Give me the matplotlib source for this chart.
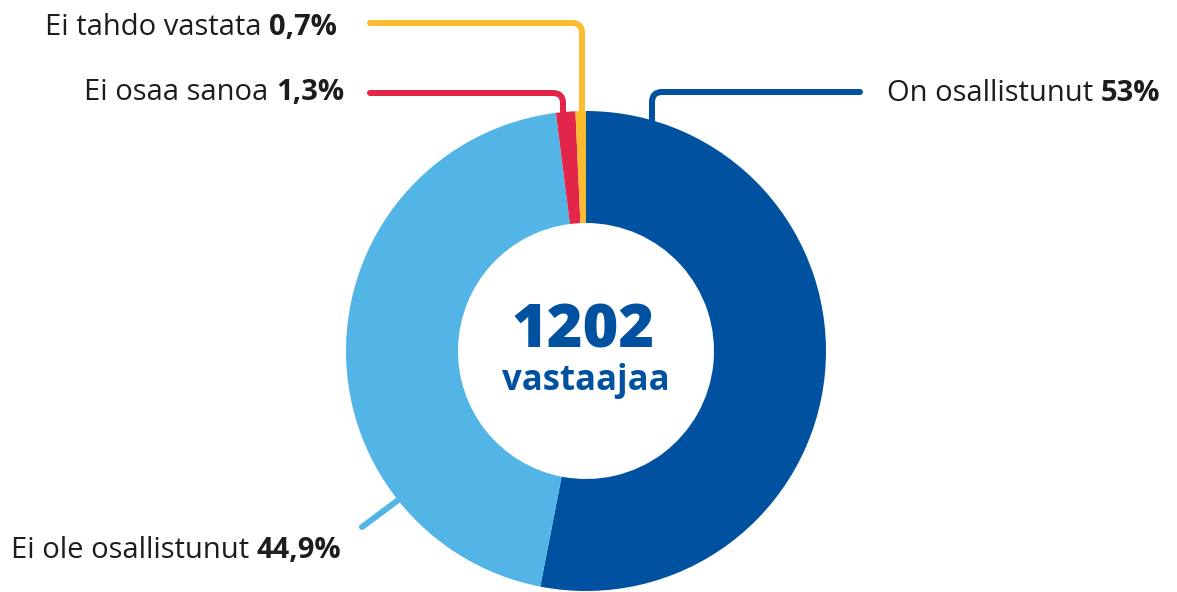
import matplotlib
matplotlib.use("Agg")
import math
import matplotlib.pyplot as plt
from matplotlib.path import Path
from matplotlib.patches import PathPatch

# ---- data ----
labels = ["On osallistunut", "Ei ole osallistunut", "Ei osaa sanoa", "Ei tahdo vastata"]
values = [53.0, 44.9, 1.3, 0.7]
value_labels = ["53%", "44,9%", "1,3%", "0,7%"]
colors = ["#0052A1", "#52B5E6", "#E2264A", "#FBBD2F"]
total_n = "1202"
total_label = "vastaajaa"

W, H = 1177, 592
fig = plt.figure(figsize=(W / 100, H / 100), dpi=100)
ax = fig.add_axes([0, 0, 1, 1])

def Y(y):
    return H - y

CX, CY, R, RIN = 586, 351, 240, 128
ax.pie(values, colors=colors, startangle=90, counterclock=False,
       radius=R, center=(CX, Y(CY)),
       wedgeprops=dict(width=R - RIN, linewidth=0))
ax.set_xlim(0, W)
ax.set_ylim(0, H)
ax.set_aspect("equal")
ax.axis("off")

LW = 6 * 72 / 100

def leader(points, color, rad=10):
    (x0, y0), (x1, y1), (x2, y2) = points
    d1 = math.hypot(x1 - x0, y1 - y0); d2 = math.hypot(x2 - x1, y2 - y1)
    ax_ = x1 - (x1 - x0) / d1 * rad; ay_ = y1 - (y1 - y0) / d1 * rad
    bx = x1 + (x2 - x1) / d2 * rad; by = y1 + (y2 - y1) / d2 * rad
    verts = [(x0, Y(y0)), (ax_, Y(ay_)), (x1, Y(y1)), (bx, Y(by)), (x2, Y(y2))]
    codes = [Path.MOVETO, Path.LINETO, Path.CURVE3, Path.CURVE3, Path.LINETO]
    p = PathPatch(Path(verts, codes), facecolor="none", edgecolor=color,
                  lw=LW, capstyle="round", joinstyle="round", zorder=1)
    ax.add_patch(p)

leader([(370, 23), (582, 23), (582, 116)], colors[3])
leader([(370, 93), (563, 93), (563, 116)], colors[2])
leader([(652, 122), (652, 92), (860, 92)], colors[0])
ax.plot([362, 405], [Y(527), Y(495)], color=colors[1], lw=LW,
        solid_capstyle="round", zorder=1)

TXT = "#1D1D1B"
FONT = ["Open Sans", "DejaVu Sans"]
FS = 21
fig.canvas.draw()
renderer = fig.canvas.get_renderer()

def two_part(x, y, regular, bold, align):
    # y: baseline pixel
    if align == "right":
        tb = ax.text(x, Y(y), bold, ha="right", va="baseline", fontsize=FS,
                     fontweight="bold", color=TXT, family=FONT)
        bb = tb.get_window_extent(renderer)
        xr = ax.transData.inverted().transform((bb.x0, 0))[0]
        ax.text(xr, Y(y), regular + " ", ha="right", va="baseline", fontsize=FS,
                color=TXT, family=FONT)
    else:
        tr = ax.text(x, Y(y), regular + " ", ha="left", va="baseline", fontsize=FS,
                     color=TXT, family=FONT)
        bb = tr.get_window_extent(renderer)
        xl = ax.transData.inverted().transform((bb.x1, 0))[0]
        ax.text(xl, Y(y), bold, ha="left", va="baseline", fontsize=FS,
                fontweight="bold", color=TXT, family=FONT)

two_part(337, 35, labels[3], value_labels[3], "right")
two_part(344, 100, labels[2], value_labels[2], "right")
two_part(887, 101, labels[0], value_labels[0], "left")
two_part(11, 558, labels[1], value_labels[1], "left")

BLUE = "#0052A1"
ax.text(CX - 3, Y(348), total_n, ha="center", va="baseline", fontsize=44,
        fontweight="heavy", color=BLUE, family=FONT)
ax.text(CX, Y(390), total_label, ha="center", va="baseline", fontsize=25,
        fontweight="bold", color=BLUE, family=FONT)

fig.savefig("out.png", dpi=100)
